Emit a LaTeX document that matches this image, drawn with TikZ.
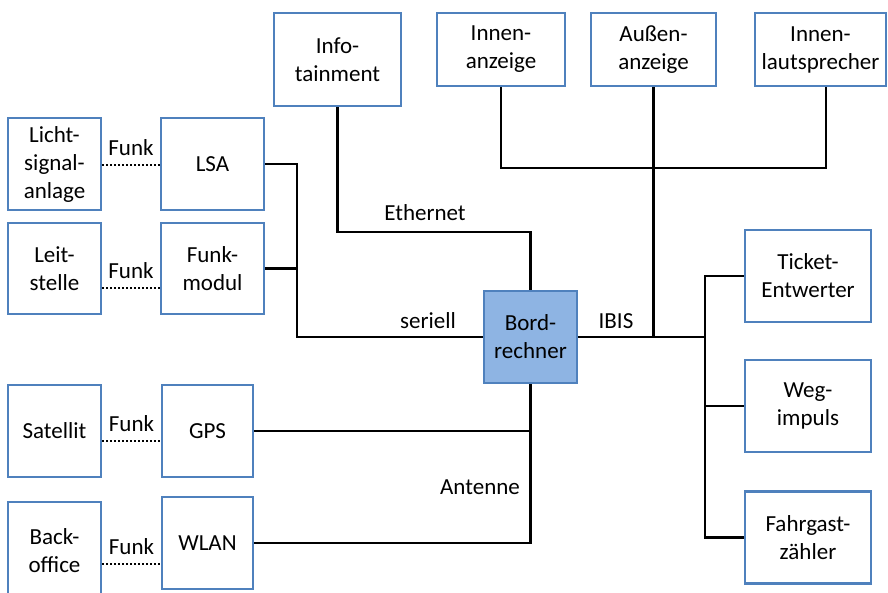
\documentclass[tikz,border=0pt]{standalone}
\usepackage{fontspec}
\setmainfont{Carlito}
\usetikzlibrary{calc}
\definecolor{boxblue}{HTML}{4F81BD}
\definecolor{boxfill}{HTML}{8EB4E3}
\begin{document}
\begin{tikzpicture}[x=1pt,y=-1pt,
  box/.style={draw=boxblue, line width=2.2pt, fill=white, align=center, inner sep=0pt,
    font=\fontsize{23}{28}\selectfont},
  conn/.style={draw=black, line width=2.2pt},
  funk/.style={draw=black, line width=2.4pt, dash pattern=on 2pt off 2pt},
  lbl/.style={font=\fontsize{23}{28}\selectfont, inner sep=1pt}]
\useasboundingbox (0,0) rectangle (888,593);
\begin{scope}
\clip (0,0) rectangle (888,593);
% left column
\node[box, minimum width=93pt, minimum height=92pt] (licht) at (54.5,164) {Licht-\\signal-\\anlage};
\node[box, minimum width=103pt, minimum height=92pt] (lsa) at (212.5,164) {LSA};
\node[box, minimum width=93pt, minimum height=91pt] (leit) at (54.5,268.5) {Leit-\\stelle};
\node[box, minimum width=103pt, minimum height=91pt] (funkm) at (212.5,268.5) {Funk-\\modul};
\node[box, minimum width=93pt, minimum height=92pt] (sat) at (54.5,431) {Satellit};
\node[box, minimum width=91pt, minimum height=92pt] (gps) at (207.5,431) {GPS};
\node[box, minimum width=93pt, minimum height=98pt] (back) at (54.5,551) {Back-\\office};
\node[box, minimum width=91pt, minimum height=92pt] (wlan) at (207.5,543) {WLAN};
% top row
\node[box, minimum width=127pt, minimum height=93pt] (info) at (337.5,59.5) {Info-\\tainment};
\node[box, minimum width=128pt, minimum height=73pt] (innen) at (501,49.5) {Innen-\\anzeige};
\node[box, minimum width=125pt, minimum height=73pt] (aussen) at (653.5,49.5) {Außen-\\anzeige};
\node[box, minimum width=131pt, minimum height=73pt] (laut) at (820.5,49.5) {Innen-\\lautsprecher};
% centre
\node[box, fill=boxfill, minimum width=93pt, minimum height=92pt] (bord) at (530.5,337) {Bord-\\rechner};
% right column
\node[box, minimum width=126pt, minimum height=92pt] (ticket) at (808,276) {Ticket-\\Entwerter};
\node[box, minimum width=126pt, minimum height=92pt] (weg) at (808,406) {Weg-\\impuls};
\node[box, minimum width=126pt, minimum height=92pt] (fahr) at (808,537.5) {Fahrgast-\\zähler};
% coordinates
\coordinate (lb) at (297,337);
\coordinate (rb) at (705,337);
\coordinate (eth) at (530.5,232);
\coordinate (tb) at (826,168);
% connectors left
\draw[conn] (lsa.east) -| (lb) -- (bord.west);
\draw[conn] (funkm.east) -- (funkm.east -| lb);
\draw[conn] (bord.south) |- (wlan.east);
\draw[conn] (gps.east) -- (gps.east -| bord.south);
% top
\draw[conn] (info.south) |- (eth) -- (bord.north);
\draw[conn] (innen.south) |- (tb) -- (tb |- laut.south);
\draw[conn] (aussen.south) -- (aussen.south |- bord.east);
% right
\draw[conn] (bord.east) -- (rb);
\draw[conn] (ticket.west) -| (rb);
\draw[conn] (fahr.west) -| (rb);
\draw[conn] (weg.west) -- (weg.west -| rb);
% radio links
\draw[funk] ([yshift=-1pt]licht.east) -- ([yshift=-1pt]licht.east -| lsa.west) node[lbl, midway, above=7pt] {Funk};
\draw[funk] ([yshift=-19.5pt]leit.east) -- ([yshift=-19.5pt]leit.east -| funkm.west) node[lbl, midway, above=7pt] {Funk};
\draw[funk] ([yshift=-10pt]sat.east) -- ([yshift=-10pt]sat.east -| gps.west) node[lbl, midway, above=7pt] {Funk};
\draw[funk] ([yshift=-13pt]back.east) -- ([yshift=-13pt]back.east -| wlan.west) node[lbl, midway, above=7pt] {Funk};
% edge labels
\node[lbl] (leth) at (425,213) {Ethernet};
\node[lbl] (lser) at (428,321) {seriell};
\node[lbl] (libis) at (616,321) {IBIS};
\node[lbl] (lant) at (480,487) {Antenne};
\end{scope}
\end{tikzpicture}
\end{document}
